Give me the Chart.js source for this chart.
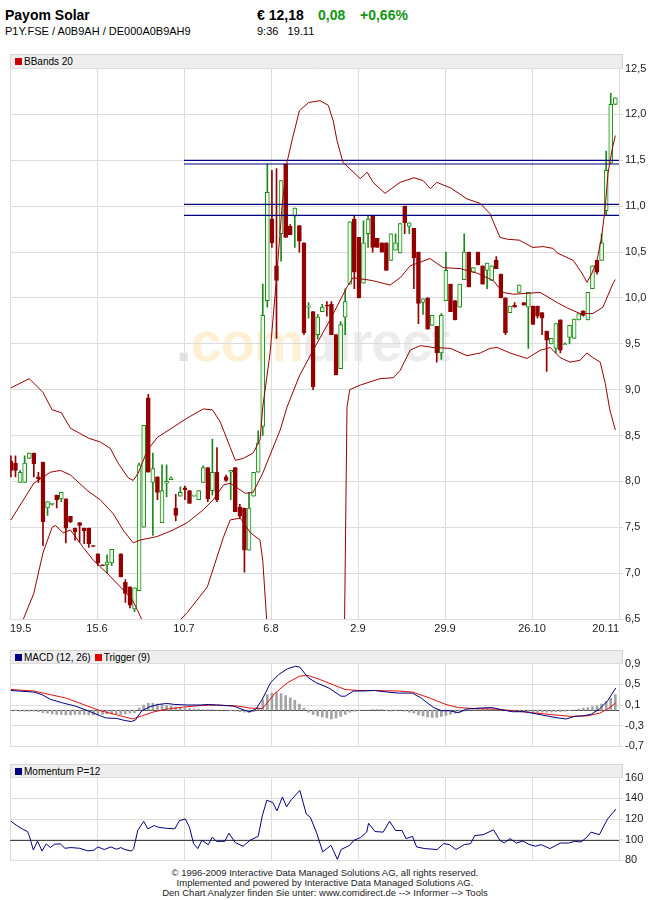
<!DOCTYPE html>
<html>
<head>
<meta charset="utf-8">
<script src="https://cdn.jsdelivr.net/npm/chart.js@4.4.1/dist/chart.umd.min.js"></script>
<style>
  body { margin: 0; background: #fff; width: 650px; height: 900px; position: relative; overflow: hidden;
         font-family: "Liberation Sans", Arial, sans-serif; color: #000; }
  .abs { position: absolute; white-space: nowrap; }
  .hdr { position: absolute; left: 10px; width: 611px; height: 13px; background: #eeeeee;
         border: 1px solid #d4d4d4; border-bottom: none; font-size: 10px; line-height: 13px; }
  .sq { display: inline-block; width: 7px; height: 7px; margin: 0 2px 0 4px; }
  canvas { position: absolute; left: 0; z-index: 2; }
  .wm { position: absolute; left: 176px; top: 312px; font: bold 56px "Liberation Sans", Arial, sans-serif;
        line-height: 60px; z-index: 1; letter-spacing: -1px; }
</style>
</head>
<body>
<div class="abs" style="left:5px;top:7px;font-weight:bold;font-size:14px;line-height:16px">Payom Solar</div>
<div class="abs" style="left:5px;top:25px;font-size:11px;line-height:13px">P1Y.FSE / A0B9AH / DE000A0B9AH9</div>
<div class="abs" style="left:257px;top:7px;font-weight:bold;font-size:14px;line-height:16px">€ 12,18</div>
<div class="abs" style="left:318px;top:7px;font-weight:bold;font-size:14px;line-height:16px;color:#139613">0,08</div>
<div class="abs" style="left:360px;top:7px;font-weight:bold;font-size:14px;line-height:16px;color:#139613">+0,66%</div>
<div class="abs" style="left:257px;top:25px;font-size:11px;line-height:13px">9:36&nbsp;&nbsp;&nbsp;19.11</div>

<div class="wm"><span style="color:#e2e2e2">.</span><span style="color:#fdf0d4">com</span><span style="color:#ececec">direct</span></div>

<div class="hdr" style="top:54px"><span class="sq" style="background:#cc0000"></span>BBands 20</div>
<div class="hdr" style="top:650px"><span class="sq" style="background:#000080"></span>MACD (12, 26)<span class="sq" style="background:#e00000"></span>Trigger (9)</div>
<div class="hdr" style="top:764px"><span class="sq" style="background:#000080"></span>Momentum P=12</div>

<canvas id="main" width="650" height="575" style="top:60px"></canvas>
<canvas id="macd" width="650" height="100" style="top:655px"></canvas>
<canvas id="mom" width="650" height="100" style="top:769px"></canvas>

<div class="abs" style="left:0;top:868px;width:650px;text-align:center;font-size:9.5px;line-height:10px;color:#222">
© 1996-2009 Interactive Data Managed Solutions AG, all rights reserved.<br>
Implemented and powered by Interactive Data Managed Solutions AG.<br>
Den Chart Analyzer finden Sie unter: www.comdirect.de --&gt; Informer --&gt; Tools
</div>

<script>
// x-axis: one slot per trading day, gridlines every 19 slots
const dateLabels = ['19.5', '15.6', '10.7', '6.8', '2.9', '29.9', '26.10', '20.11'];
const gridSlots = [-0.2, 18.8, 37.8, 56.8, 75.8, 94.8, 113.8, 132.8];
const X_MIN = -0.2, X_MAX = 132.8;

// daily candles (null = no trading slot)
const opens = [8.22,8.20,7.99,7.99,8.25,8.31,8.05,8.21,7.71,7.75,
  7.85,7.81,7.81,7.62,7.49,7.55,7.49,7.49,7.30,7.21,
  7.09,7.09,7.11,null,7.21,6.90,6.85,6.61,6.81,7.50,
  8.91,7.99,8.05,7.55,7.98,8.02,7.71,7.84,7.93,7.90,
  7.84,7.80,7.99,8.15,7.90,8.10,null,8.05,8.10,8.15,
  7.72,7.71,7.25,7.84,8.10,8.60,9.97,10.86,10.35,10.70,
  11.46,10.78,10.89,10.79,10.60,9.90,9.85,9.60,9.85,9.92,
  9.93,9.60,9.23,9.79,10.15,10.86,10.66,10.16,10.70,10.90,
  10.65,10.60,10.60,10.41,10.52,10.49,11.00,10.78,10.76,10.50,
  9.95,10.00,9.70,9.69,9.40,9.97,10.15,9.97,9.90,10.20,
  10.50,10.28,10.50,10.35,10.30,10.19,10.41,10.26,10.00,9.84,
  9.92,10.06,9.95,9.90,9.91,9.91,9.84,9.64,9.50,9.45,
  9.76,9.49,9.57,9.56,9.76,9.86,9.76,10.10,10.41,10.41,
  10.95,11.47,12.11];
const highs = [8.28,8.28,8.12,8.28,8.31,8.31,8.10,8.21,7.78,7.76,
  7.85,7.88,7.81,7.62,7.49,7.55,7.49,7.49,7.30,7.21,
  7.09,7.20,7.26,null,7.21,6.93,6.85,6.84,8.20,8.61,
  8.95,8.31,8.05,8.18,8.18,8.05,7.86,7.94,7.95,7.90,
  7.85,7.90,8.17,8.15,8.46,8.37,null,8.07,8.12,8.15,
  7.75,7.71,7.88,8.10,8.55,10.15,11.46,11.39,11.41,11.28,
  11.46,10.80,10.98,10.79,10.60,9.95,9.85,9.82,9.93,9.96,
  9.96,9.60,9.74,10.10,10.83,10.90,10.66,10.84,10.90,10.90,
  10.65,10.60,10.60,10.70,10.70,10.81,11.00,10.82,10.76,10.50,
  9.99,10.00,9.81,9.69,9.83,10.50,10.15,9.97,10.15,10.70,
  10.50,10.33,10.50,10.35,10.38,10.35,10.45,10.26,10.00,9.91,
  9.95,10.14,9.95,10.06,9.91,9.91,9.84,9.64,9.56,9.72,
  9.76,9.51,9.70,9.77,9.83,9.86,10.06,10.35,10.41,10.70,
  11.60,12.23,12.18];
const lows = [8.05,8.05,7.99,7.99,8.25,8.05,7.99,7.30,7.63,7.74,
  7.71,7.78,7.33,7.55,7.36,7.34,7.32,7.28,7.29,7.08,
  7.08,7.00,7.08,null,6.96,6.68,6.62,6.58,6.81,7.50,
  8.10,7.41,7.80,7.55,7.83,8.02,7.57,7.84,7.80,7.76,
  7.84,7.80,7.99,7.78,7.85,7.78,null,8.00,7.80,7.67,
  7.60,7.01,7.25,7.84,8.10,8.50,9.90,10.55,9.56,10.40,
  10.66,10.69,10.55,10.50,9.60,9.78,9.00,9.55,9.85,9.80,
  9.60,9.16,9.23,9.60,10.15,10.10,10.00,10.16,10.55,10.50,
  10.55,10.50,10.30,10.41,10.52,10.49,10.70,10.70,10.10,9.72,
  9.82,9.66,9.70,9.30,9.33,9.97,9.85,9.76,9.90,10.20,
  10.12,10.28,10.36,10.15,10.10,10.19,10.32,10.00,9.60,9.84,
  9.90,10.06,9.92,9.45,9.71,9.78,9.60,9.20,9.50,9.40,
  9.40,9.49,9.50,9.56,9.76,9.80,9.76,10.10,10.26,10.41,
  10.90,11.47,12.11];
const closes = [8.12,8.12,8.10,8.20,8.31,8.19,8.03,7.56,7.78,7.76,
  7.80,7.88,7.49,7.56,7.45,7.52,7.46,7.32,7.29,7.11,
  7.08,7.12,7.26,null,6.96,6.78,6.65,6.84,8.18,8.61,
  8.10,8.14,7.88,7.90,8.00,8.04,7.63,7.88,7.91,7.76,
  7.85,7.90,8.15,7.81,8.10,7.80,null,8.01,8.12,7.67,
  7.62,7.25,7.71,8.10,8.42,9.81,11.15,10.60,10.19,11.28,
  10.66,10.69,10.98,10.62,9.62,9.91,9.03,9.79,9.90,9.91,
  9.60,9.16,9.71,9.96,10.83,10.28,10.00,10.60,10.86,10.55,
  10.55,10.50,10.30,10.70,10.60,10.81,10.82,10.82,10.44,9.94,
  9.99,9.66,9.81,9.40,9.81,10.30,9.85,9.76,10.15,10.50,
  10.12,10.33,10.36,10.15,10.38,10.35,10.32,10.00,9.62,9.91,
  9.90,10.14,9.92,10.06,9.71,9.80,9.78,9.54,9.56,9.72,
  9.43,9.50,9.70,9.77,9.83,9.81,10.06,10.35,10.28,10.60,
  11.39,12.11,12.18];

// Bollinger bands (slot, value)
const upperX = [0,4,7,9,11,13,17,19.5,21.7,23.4,25.6,26.7,27.8,29.8,32,35.4,38.5,42,44,45.7,
  47.9,49,50.7,52.9,54.4,55,56.6,58.1,59.2,60.3,61.4,63,65,67.5,69.3,70.4,71.2,72.5,76.3,77.8,
  79.1,81.7,85,88,90,91.6,93,96,99.6,102.5,104.6,106.8,108.4,111,114,116.2,118.4,119.3,122.8,124.7,
  125.8,126.9,128,129,129.8,130.4,131.3,132];
const upperY = [9.02,9.12,8.97,8.78,8.75,8.58,8.47,8.43,8.36,8.20,8.04,8.01,8.09,8.34,8.48,8.59,8.69,8.79,8.78,8.65,
  8.37,8.23,8.25,8.31,8.45,8.81,9.40,10.27,10.99,11.48,11.72,12.04,12.13,12.15,12.10,11.93,11.72,11.48,11.30,11.37,
  11.26,11.14,11.26,11.31,11.28,11.19,11.26,11.20,11.08,11.03,10.92,10.66,10.64,10.63,10.55,10.56,10.54,10.49,10.41,10.27,
  10.17,10.27,10.41,10.66,10.99,11.36,11.62,11.77];
const middleX = [0,5,8.6,10.8,13,16.7,19.5,22.3,24.5,26.7,28.2,32,35.4,38.5,42,44.2,46.4,47.9,49.4,51.2,
  52.9,55,58.8,60.3,63,66,69.7,73.4,74.7,78.9,82.8,85,87.2,89.4,91.5,94.4,98.1,101.8,105.3,107.5,
  109.7,115.6,119.3,121.5,124.3,127.1,129.3,131.5,132];
const middleY = [7.58,7.98,8.10,8.12,8.07,7.90,7.80,7.65,7.47,7.33,7.36,7.40,7.47,7.55,7.69,7.80,7.96,7.98,7.93,7.87,
  7.88,8.09,8.56,8.81,9.15,9.43,9.76,10.12,10.22,10.19,10.14,10.22,10.35,10.39,10.43,10.33,10.32,10.27,10.19,10.06,
  10.04,10.06,9.95,9.89,9.83,9.83,9.90,10.16,10.20];
const lowerX = [0,2,5,7,9,9.7,11.4,13,15.8,18,21,23.9,26.5,27.6,28.9,31.5,33.7,35.4,38.5,42.9,
  46.4,47.9,50.1,52.3,54.4,55,56,58,62,66,70,72.8,73.4,74,76.3,80.6,83.5,85,87.2,89.4,
  92.2,96,99.6,102.5,104.6,106.2,109,112.7,115.6,117.8,119.9,122.1,124.3,125.8,127.1,128.7,129.8,130.8,132];
const lowerY = [6.20,6.41,6.78,7.22,7.50,7.52,7.44,7.47,7.28,7.14,7.00,6.85,6.71,6.60,6.46,6.30,6.30,6.41,6.57,6.85,
  7.39,7.58,7.60,7.44,7.36,7.14,6.38,5.60,4.90,4.80,5.30,6.20,8.81,9.00,9.05,9.12,9.13,9.21,9.43,9.48,
  9.46,9.45,9.37,9.40,9.45,9.46,9.40,9.34,9.43,9.46,9.35,9.30,9.32,9.40,9.35,9.30,9.07,8.78,8.56];

// horizontal resistance lines
const levels = [11.50, 11.46, 11.02, 10.90];
const levelStart = 37.8;

// MACD panel
const macdX = [0,5,6.8,8.6,11.3,14,16.8,19.5,20.8,23.1,24.9,26.3,27.2,28.6,30.4,32.2,34,35.8,38.6,41.3,
  43.1,44.9,48.6,51.3,52.2,53.5,54.9,56.7,58.5,60.4,62.2,63.1,64.9,66.7,69.4,72.1,73,74.8,76.6,79.4,
  82.2,84.8,87.7,89.5,92.3,94,95.8,97.7,99.5,102.2,105,107.7,109.5,112.2,115.8,119.5,121.3,123.1,124.9,126.7,
  128.5,130.3,132.1];
const macdY = [0.38,0.35,0.30,0.21,0.14,0.08,-0.01,-0.11,-0.15,-0.16,-0.20,-0.22,-0.19,-0.01,0.07,0.11,0.13,0.11,0.10,0.10,
  0.11,0.10,0.08,-0.01,-0.03,0.02,0.21,0.53,0.69,0.80,0.85,0.83,0.63,0.53,0.43,0.27,0.27,0.37,0.37,0.38,
  0.35,0.33,0.33,0.24,0.05,-0.01,-0.01,-0.05,0.02,0.04,0.05,0.00,-0.03,-0.03,-0.09,-0.15,-0.17,-0.12,-0.11,-0.08,
  0.02,0.18,0.43];
const triggerX = [0,5,8.6,12.2,15.8,19.5,23.1,26.6,28.6,31.3,34,37.7,41.3,44.9,49.5,52.2,54.9,57.7,60.4,63.1,
  64.9,67.6,70.4,73,75.8,79.4,84.8,87.7,91.3,95,97.7,101.3,105.9,109.5,114,118.6,122.2,125.8,128.5,130.3,132.1];
const triggerY = [0.40,0.37,0.30,0.23,0.11,-0.01,-0.09,-0.17,-0.11,-0.03,0.02,0.06,0.09,0.10,0.08,0.04,0.03,0.33,0.53,0.66,
  0.67,0.59,0.49,0.40,0.38,0.38,0.37,0.35,0.24,0.11,0.05,0.03,0.02,-0.01,-0.05,-0.09,-0.12,-0.11,-0.06,0.02,0.14];
const histogram = [-0.01,-0.01,-0.02,-0.02,-0.02,
  -0.02,-0.03,-0.05,-0.06,-0.07,-0.08,-0.08,-0.09,-0.09,-0.08,-0.08,-0.08,-0.09,-0.09,-0.08,-0.08,-0.07,-0.07,-0.07,-0.08,-0.07,-0.06,-0.05,
  0.04,0.10,0.13,0.13,0.12,0.11,0.10,0.08,0.06,0.05,0.04,0.03,0.02,0.02,0.01,0.01,0.01,0,0,0,-0.01,-0.02,-0.03,-0.04,-0.05,-0.03,
  0.05,0.20,0.30,0.33,0.34,0.32,0.28,0.24,0.19,0.12,0.04,-0.04,-0.08,-0.11,-0.13,-0.15,-0.17,-0.15,-0.12,-0.08,-0.04,-0.02,-0.01,0,0,0.01,0.01,0.01,-0.01,-0.02,-0.01,0,
  -0.02,-0.04,-0.06,-0.09,-0.11,-0.13,-0.14,-0.14,-0.12,-0.10,-0.08,-0.06,-0.04,-0.02,0,0.01,0.02,0.03,0.03,0.02,0.01,0,-0.01,-0.02,-0.02,-0.02,-0.03,-0.03,-0.03,-0.04,-0.04,-0.04,-0.04,-0.03,-0.03,-0.02,-0.01,0,0.02,0.04,0.05,0.07,0.09,0.12,0.17,0.23,0.30];

// Momentum panel
const momX = [0,1.3,2.7,3.6,4,4.9,5.8,6.8,7.7,8.6,9.5,10.8,11.8,13.1,15,16.8,18.1,19,20.4,21.8,
  23.1,24,24.9,26.3,26.8,27.7,29,29.9,31.3,32.2,34,35.8,36.8,38.1,39,39.9,40.8,41.7,43.1,44,
  44.9,46.7,47.6,49,50.7,52.2,54,54.9,55.9,57.2,58.1,59.3,60.2,61.3,63.1,64.5,65.4,66.7,68.1,69.9,
  70.4,71.3,72.1,74,74.9,76.3,77.7,78.1,79.5,81.3,82.7,84,85.4,86.3,87.7,88.6,90.4,93.1,94.5,95.8,
  97.2,99,100.4,101.3,103.1,105.4,106.8,107.7,109,110.4,111.8,113.1,114.5,115.8,117.7,120,121.8,123.1,124.5,125.8,
  126.7,128.5,130.3,132.1];
const momY = [117.8,113.7,109.8,108,104,90,98.7,89,96,92.4,95.6,96,91.7,92.4,91.7,89.2,89.8,93,90.5,93,
  90.8,92.4,90.5,89,91.4,108.9,117.8,110.5,113.7,112,111,110.5,118.4,120,112,96.2,91.4,99.4,95.2,102.5,
  98.4,98.4,106.3,97.1,93.7,99.4,103.2,123.2,138.1,135.9,127.9,141.3,131.7,139,147.6,124.8,121.6,107.3,88.3,94.6,
  89.8,81,90.5,94.6,99.4,101.9,107.3,115.9,107.9,107.3,117.8,108.9,108.9,101,103.2,93,91.4,90.5,96.2,95.2,
  90.5,95.2,96.2,104,104.8,109.5,99.4,96.8,101,96.8,98.7,95.6,93.7,95.2,91.4,96.8,96.8,98.4,97.8,102.5,
  107.3,104.8,120,129.5];

const priceTicks = [6.5,7,7.5,8,8.5,9,9.5,10,10.5,11,11.5,12,12.5];
const macdTicks = [-0.7,-0.3,0.1,0.5,0.9];
const momTicks = [80,100,120,140,160];

// styles
const GRID = '#dcdcdc';
const GREEN = '#1b8a1b', GREEN_FILL = '#eafbe6', RED = '#930000';
const BAND = '#990000', NAVY = '#000080';
const axisFont = { family: 'Liberation Sans', size: 11 };

const pts = (xs, ys) => xs.map((x, i) => ({ x: x, y: ys[i] }));
const comma = v => v.toFixed(1).replace('.', ',');

const candles = [];
opens.forEach((o, i) => {
  if (o === null) return;
  candles.push({ i: i, o: o, h: highs[i], l: lows[i], c: closes[i] });
});
const bodyData = candles.map(k => ({ x: k.i, y: [Math.min(k.o, k.c), Math.max(k.o, k.c)], up: k.c >= k.o }));
const wickData = candles.map(k => ({ x: k.i, y: [k.l, k.h], up: k.c >= k.o }));

function xAxis(showLabels) {
  return {
    type: 'linear', min: X_MIN, max: X_MAX, offset: false,
    afterBuildTicks: s => { s.ticks = gridSlots.map(v => ({ value: v })); },
    afterFit: s => { s.height = showLabels ? 16 : 0; },
    grid: { color: GRID, tickLength: 0, offset: false },
    border: { display: false },
    ticks: { display: showLabels, autoSkip: false, maxRotation: 0, align: 'inner', padding: 3,
             font: axisFont, color: '#222', callback: (v, i) => dateLabels[i] }
  };
}
function yAxis(min, max, ticks, fmt) {
  return {
    position: 'right', min: min, max: max,
    afterBuildTicks: s => { s.ticks = ticks.map(v => ({ value: v })); },
    afterFit: s => { s.width = 31; },
    grid: { color: GRID, tickLength: 4 },
    border: { display: false },
    ticks: { padding: 2, font: axisFont, color: '#222', callback: fmt }
  };
}

// dark reference line (zero line for MACD, 100 for momentum)
const refLine = {
  id: 'refLine',
  beforeDatasetsDraw(chart, args, opts) {
    if (opts.value === undefined) return;
    const { ctx, chartArea, scales } = chart;
    const py = Math.round(scales.y.getPixelForValue(opts.value)) + 0.5;
    ctx.save();
    ctx.strokeStyle = '#444';
    ctx.lineWidth = 1;
    ctx.beginPath();
    ctx.moveTo(chartArea.left, py);
    ctx.lineTo(chartArea.right, py);
    ctx.stroke();
    ctx.restore();
  }
};

const common = {
  responsive: false, animation: false, events: [],
  plugins: { legend: { display: false }, tooltip: { enabled: false } }
};

const bandLine = (data) => ({ type: 'line', data: data, borderColor: BAND, borderWidth: 1,
  pointRadius: 0, tension: 0, order: 0 });

const levelSets = levels.map(v => ({
  type: 'line', data: [{ x: levelStart, y: v }, { x: X_MAX, y: v }],
  borderColor: NAVY, borderWidth: 1.2, pointRadius: 0, order: 0
}));

new Chart(document.getElementById('main'), {
  type: 'bar',
  data: {
    datasets: [
      bandLine(pts(upperX, upperY)),
      bandLine(pts(middleX, middleY)),
      bandLine(pts(lowerX, lowerY)),
      ...levelSets,
      {
        data: bodyData, grouped: false, barThickness: 4, minBarLength: 1,
        backgroundColor: c => (c.raw && c.raw.up) ? GREEN_FILL : RED,
        borderColor: c => (c.raw && c.raw.up) ? GREEN : RED,
        borderWidth: 1, borderSkipped: false, order: 1
      },
      {
        data: wickData, grouped: false, barThickness: 1,
        backgroundColor: c => (c.raw && c.raw.up) ? GREEN : RED,
        borderWidth: 0, order: 2
      }
    ]
  },
  options: Object.assign({}, common, {
    layout: { padding: { left: 10, top: 8, right: 0, bottom: 0 } },
    scales: { x: xAxis(true), y: yAxis(6.5, 12.5, priceTicks, comma) }
  })
});

new Chart(document.getElementById('macd'), {
  type: 'bar',
  plugins: [refLine],
  data: {
    datasets: [
      { type: 'line', data: pts(macdX, macdY), borderColor: NAVY, borderWidth: 1, pointRadius: 0, order: 0 },
      { type: 'line', data: pts(triggerX, triggerY), borderColor: '#dd1111', borderWidth: 1, pointRadius: 0, order: 1 },
      { data: histogram.map((v, i) => ({ x: i, y: v })), grouped: false, barThickness: 2,
        backgroundColor: '#a3a3a3', borderWidth: 0, order: 2 }
    ]
  },
  options: Object.assign({}, common, {
    plugins: Object.assign({}, common.plugins, { refLine: { value: 0 } }),
    layout: { padding: { left: 10, top: 8, right: 0, bottom: 8 } },
    scales: { x: xAxis(false), y: yAxis(-0.7, 0.9, macdTicks, comma) }
  })
});

new Chart(document.getElementById('mom'), {
  type: 'line',
  plugins: [refLine],
  data: {
    datasets: [
      { data: pts(momX, momY), borderColor: NAVY, borderWidth: 1, pointRadius: 0, tension: 0 }
    ]
  },
  options: Object.assign({}, common, {
    plugins: Object.assign({}, common.plugins, { refLine: { value: 100 } }),
    layout: { padding: { left: 10, top: 8, right: 0, bottom: 8 } },
    scales: { x: xAxis(false), y: yAxis(80, 160, momTicks, v => String(v)) }
  })
});
</script>
</body>
</html>
